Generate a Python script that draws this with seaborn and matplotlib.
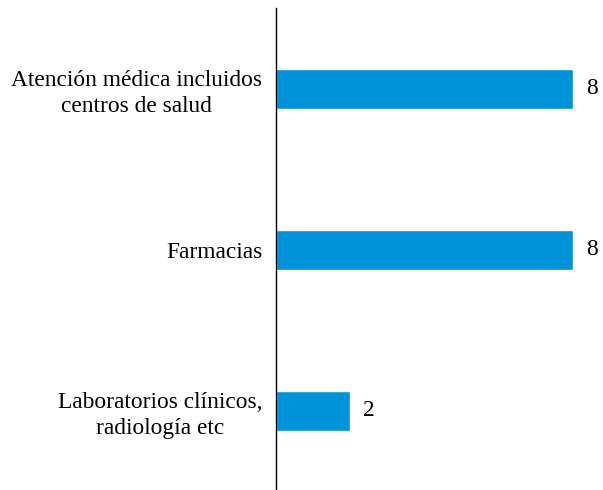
import matplotlib
matplotlib.use("Agg")
import matplotlib.pyplot as plt
import pandas as pd
import seaborn as sns

categories = [
    "Atención médica incluidos\ncentros de salud",
    "Farmacias",
    "Laboratorios clínicos,\nradiología etc",
]
values = [8, 8, 2]

df = pd.DataFrame({"categoria": categories, "valor": values})

sns.set_theme(style="white")
plt.rcParams["font.family"] = ["Liberation Serif", "DejaVu Serif"]

fig = plt.figure(figsize=(6.03, 4.90), dpi=100)
ax = fig.add_axes([276 / 603, -0.003, (603 - 276) / 603, 483 / 490])

sns.barplot(data=df, x="valor", y="categoria", color="#0093D9",
            saturation=1, width=0.25, ax=ax)

for i, v in enumerate(values):
    ax.text(v + 0.35, i, str(v), va="center", ha="left", fontsize=16.8,
            color="black", clip_on=False)

ax.set_xlim(0, 8.8)
ax.set_xlabel("")
ax.set_ylabel("")
ax.set_xticks([])
ax.tick_params(axis="y", length=0, pad=10, labelsize=16.8, labelcolor="black")
for lbl in ax.get_yticklabels():
    lbl.set_multialignment("center")
    lbl.set_linespacing(1.27)

for side in ["top", "right", "bottom"]:
    ax.spines[side].set_visible(False)
ax.spines["left"].set_color("black")
ax.spines["left"].set_linewidth(1.0)

fig.savefig("out.png", dpi=100)
